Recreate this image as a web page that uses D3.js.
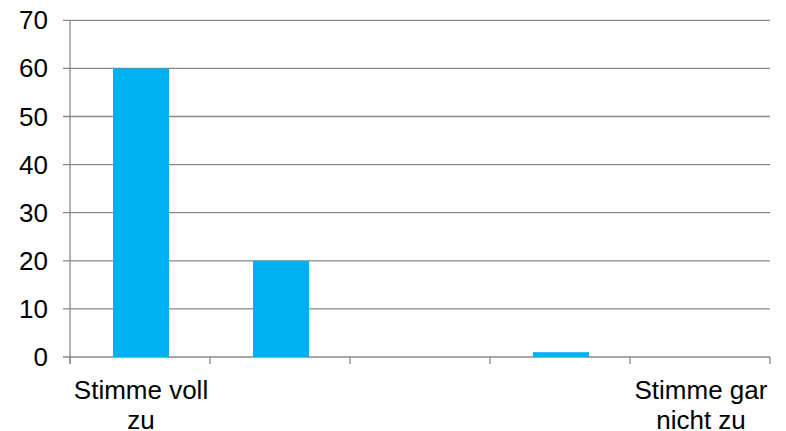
<!DOCTYPE html>
<html>
<head>
<meta charset="utf-8">
<script src="https://cdn.jsdelivr.net/npm/d3@7"></script>
<style>
  html, body { margin: 0; padding: 0; background: #fff; }
  svg { display: block; font-family: "Liberation Sans", Arial, sans-serif; }
</style>
</head>
<body>
<svg id="chart" width="786" height="431"></svg>
<script>
// Answer scale from "fully agree" to "fully disagree"; only the ends are labelled
const categories = ["Stimme voll zu", "", "", "", "Stimme gar nicht zu"];
const values = [60, 20, 0, 1, 0];
const yTicks = [0, 10, 20, 30, 40, 50, 60, 70];

const width = 786, height = 431;
const margin = { top: 20.3, right: 16, bottom: 74, left: 70 };
const svg = d3.select("#chart");

const idx = d3.range(categories.length);
const x = d3.scaleBand()
  .domain(idx)
  .range([margin.left, width - margin.right])
  .paddingInner(0.6)
  .paddingOuter(0.3);

const y = d3.scaleLinear()
  .domain([0, 70])
  .range([height - margin.bottom, margin.top]);

const gridColor = "#888888";
const x0 = margin.left, x1 = width - margin.right;

// Horizontal gridlines, each with a short tick sticking out to the left
svg.append("g")
  .selectAll("line")
  .data(yTicks)
  .join("line")
  .attr("x1", x0 - 7)
  .attr("x2", x1)
  .attr("y1", d => y(d))
  .attr("y2", d => y(d))
  .attr("stroke", gridColor)
  .attr("stroke-width", 1.3);

// Y axis labels
svg.append("g")
  .selectAll("text")
  .data(yTicks)
  .join("text")
  .attr("x", x0 - 22)
  .attr("y", d => y(d))
  .attr("text-anchor", "end")
  .attr("dominant-baseline", "central")
  .attr("font-size", 26)
  .attr("fill", "#000")
  .text(d => d);

// Vertical axis line
svg.append("line")
  .attr("x1", x0).attr("x2", x0)
  .attr("y1", y(70)).attr("y2", y(0) + 7)
  .attr("stroke", gridColor)
  .attr("stroke-width", 1.3);

// Category boundary ticks below the baseline
const step = x.step();
const boundaries = d3.range(categories.length + 1).map(i => x0 + i * step);
svg.append("g")
  .selectAll("line")
  .data(boundaries)
  .join("line")
  .attr("x1", d => d).attr("x2", d => d)
  .attr("y1", y(0)).attr("y2", y(0) + 7)
  .attr("stroke", gridColor)
  .attr("stroke-width", 1.3);

// Bars
svg.append("g")
  .selectAll("rect")
  .data(idx)
  .join("rect")
  .attr("x", i => x(i) + 1)
  .attr("width", x.bandwidth())
  .attr("y", i => y(values[i]))
  .attr("height", i => y(0) - y(values[i]))
  .attr("fill", "#00B0F0");

// Category labels, wrapped to the band width
const labels = svg.append("g")
  .selectAll("text")
  .data(idx)
  .join("text")
  .attr("x", i => x(i) + x.bandwidth() / 2 + 1)
  .attr("y", y(0) + 42)
  .attr("text-anchor", "middle")
  .attr("font-size", 26)
  .attr("fill", "#000");

labels.each(function(i) {
  const text = d3.select(this);
  const words = categories[i].split(/\s+/).filter(w => w);
  const maxW = step - 4;
  let line = [];
  let lineNo = 0;
  let tspan = text.append("tspan").attr("x", text.attr("x")).attr("dy", 0);
  for (const w of words) {
    line.push(w);
    tspan.text(line.join(" "));
    if (tspan.node().getComputedTextLength() > maxW && line.length > 1) {
      line.pop();
      tspan.text(line.join(" "));
      line = [w];
      lineNo++;
      tspan = text.append("tspan").attr("x", text.attr("x")).attr("dy", 29.5).text(w);
    }
  }
});
</script>
</body>
</html>
